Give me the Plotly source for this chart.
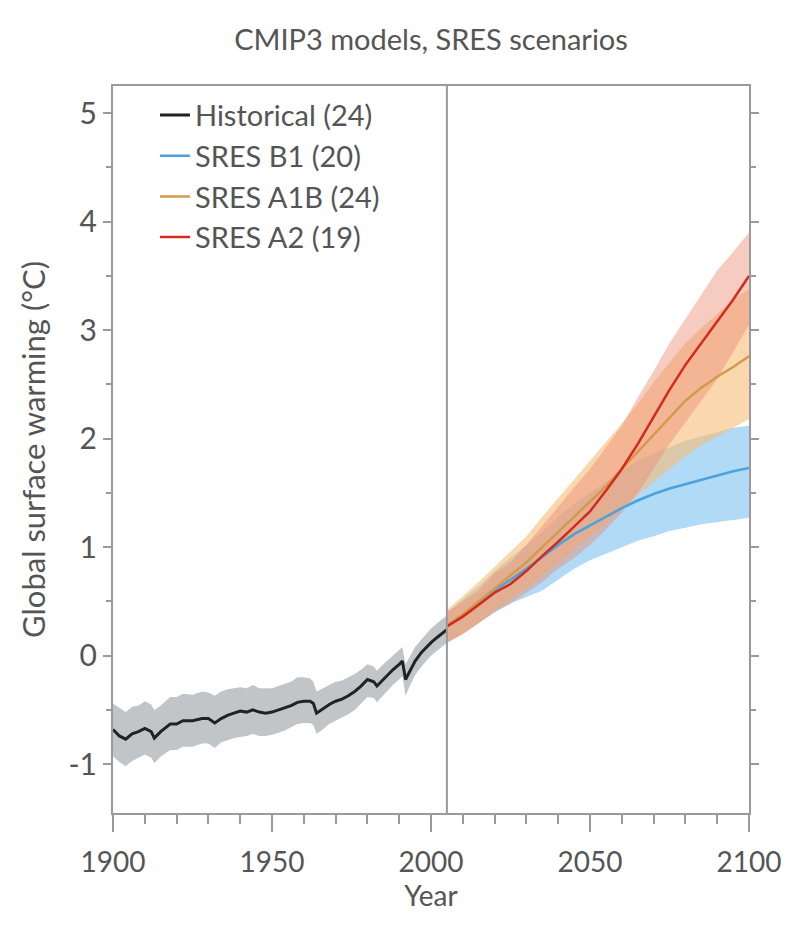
import plotly.graph_objects as go

# ---------------- data ----------------
hist_years = [1900, 1902, 1904, 1906, 1908, 1910, 1912, 1913, 1915, 1918, 1920, 1922, 1925, 1928,
              1930, 1932, 1934, 1936, 1938, 1940, 1942, 1944, 1946, 1948, 1950, 1952, 1954, 1956,
              1958, 1960, 1962, 1963, 1964, 1966, 1968, 1970, 1972, 1974, 1976, 1978, 1980, 1982,
              1983, 1985, 1988, 1990, 1991, 1992, 1993, 1995, 1997, 2000, 2002, 2005]
hist_mean = [-0.68, -0.74, -0.77, -0.72, -0.70, -0.67, -0.70, -0.76, -0.70, -0.63, -0.63, -0.60,
             -0.60, -0.58, -0.58, -0.62, -0.58, -0.55, -0.53, -0.51, -0.52, -0.50, -0.52, -0.53,
             -0.52, -0.50, -0.48, -0.46, -0.43, -0.42, -0.42, -0.44, -0.53, -0.49, -0.45, -0.42,
             -0.40, -0.37, -0.33, -0.28, -0.22, -0.24, -0.28, -0.22, -0.13, -0.08, -0.05, -0.22,
             -0.16, -0.05, 0.03, 0.12, 0.17, 0.24]
hist_hi = [-0.44, -0.48, -0.52, -0.47, -0.46, -0.42, -0.45, -0.50, -0.46, -0.38, -0.38, -0.35,
           -0.36, -0.33, -0.34, -0.37, -0.33, -0.31, -0.30, -0.29, -0.30, -0.27, -0.30, -0.30,
           -0.30, -0.28, -0.26, -0.24, -0.20, -0.20, -0.21, -0.24, -0.33, -0.30, -0.27, -0.24,
           -0.23, -0.20, -0.17, -0.13, -0.08, -0.10, -0.14, -0.08, 0.00, 0.05, 0.08, -0.08,
           -0.03, 0.08, 0.15, 0.25, 0.30, 0.37]
hist_lo = [-0.93, -0.98, -1.02, -0.97, -0.94, -0.91, -0.94, -0.99, -0.93, -0.87, -0.87, -0.84,
           -0.84, -0.81, -0.81, -0.85, -0.80, -0.78, -0.76, -0.75, -0.74, -0.72, -0.74, -0.74,
           -0.73, -0.71, -0.69, -0.66, -0.63, -0.62, -0.62, -0.64, -0.72, -0.68, -0.63, -0.60,
           -0.57, -0.54, -0.50, -0.44, -0.38, -0.39, -0.43, -0.37, -0.27, -0.22, -0.19, -0.37,
           -0.30, -0.18, -0.10, 0.00, 0.05, 0.12]

fut_years = [2005, 2010, 2015, 2020, 2025, 2030, 2035, 2040, 2045, 2050,
             2055, 2060, 2065, 2070, 2075, 2080, 2085, 2090, 2095, 2100]

b1_mean = [0.27, 0.37, 0.48, 0.60, 0.70, 0.80, 0.91, 1.02, 1.12, 1.20,
           1.28, 1.36, 1.43, 1.49, 1.54, 1.58, 1.62, 1.66, 1.70, 1.73]
b1_hi = [0.40, 0.52, 0.64, 0.78, 0.90, 1.02, 1.14, 1.28, 1.40, 1.50,
         1.60, 1.70, 1.80, 1.86, 1.92, 1.98, 2.02, 2.06, 2.10, 2.12]
b1_lo = [0.12, 0.20, 0.30, 0.40, 0.48, 0.54, 0.60, 0.70, 0.80, 0.88,
         0.94, 1.00, 1.06, 1.10, 1.15, 1.18, 1.21, 1.23, 1.25, 1.27]

a1b_mean = [0.28, 0.38, 0.50, 0.62, 0.74, 0.86, 1.00, 1.14, 1.28, 1.42,
            1.56, 1.72, 1.88, 2.04, 2.20, 2.35, 2.47, 2.57, 2.66, 2.76]
a1b_hi = [0.42, 0.55, 0.68, 0.82, 0.96, 1.10, 1.28, 1.45, 1.62, 1.80,
          1.96, 2.14, 2.32, 2.52, 2.70, 2.88, 3.02, 3.15, 3.28, 3.38]
a1b_lo = [0.12, 0.20, 0.30, 0.42, 0.52, 0.62, 0.74, 0.86, 0.98, 1.10,
          1.22, 1.35, 1.48, 1.60, 1.72, 1.84, 1.94, 2.02, 2.10, 2.18]

a2_mean = [0.27, 0.36, 0.47, 0.58, 0.66, 0.78, 0.92, 1.05, 1.19, 1.33,
           1.52, 1.72, 1.95, 2.20, 2.45, 2.68, 2.88, 3.08, 3.28, 3.50]
a2_hi = [0.40, 0.50, 0.60, 0.76, 0.86, 1.02, 1.20, 1.38, 1.55, 1.72,
         1.92, 2.12, 2.38, 2.62, 2.88, 3.10, 3.32, 3.55, 3.72, 3.90]
a2_lo = [0.12, 0.20, 0.30, 0.40, 0.48, 0.58, 0.68, 0.80, 0.90, 1.02,
         1.16, 1.32, 1.50, 1.72, 1.95, 2.15, 2.35, 2.55, 2.80, 3.05]

legend_names = ["Historical (24)", "SRES B1 (20)", "SRES A1B (24)", "SRES A2 (19)"]
split_year = 2005
x_ticks = [1900, 1950, 2000, 2050, 2100]
y_ticks = [-1, 0, 1, 2, 3, 4, 5]
y_tick_text = ["-1", "0", "1", "2", "3", "4", "5"]

# ---------------- styles ----------------
FONT = "Lato"
TXT = "#555555"
AX = "#9a9a9a"

fig = go.Figure()


def band(x, lo, hi, color):
    fig.add_trace(go.Scatter(
        x=list(x) + list(x)[::-1],
        y=list(hi) + list(lo)[::-1],
        fill="toself", fillcolor=color, mode="lines",
        line=dict(width=0), hoverinfo="skip", showlegend=False))


band(hist_years, hist_lo, hist_hi, "rgba(178,182,186,0.8)")
band(fut_years, b1_lo, b1_hi, "rgba(150,205,242,0.75)")
band(fut_years, a1b_lo, a1b_hi, "rgba(247,188,118,0.6)")
band(fut_years, a2_lo, a2_hi, "rgba(236,140,115,0.45)")


def line(x, y, color, name, rank, width=2.5):
    fig.add_trace(go.Scatter(
        x=x, y=y, mode="lines", name=name, legendrank=rank,
        line=dict(color=color, width=width)))


line(fut_years, b1_mean, "#4aa3df", legend_names[1], 2)
line(fut_years, a1b_mean, "#d49a4a", legend_names[2], 3)
line(fut_years, a2_mean, "#d42a1e", legend_names[3], 4)
line(hist_years, hist_mean, "#222222", legend_names[0], 1, width=3)

fig.add_shape(type="line", xref="x", yref="paper", x0=split_year, x1=split_year,
              y0=0, y1=1, line=dict(color=AX, width=2), layer="above")

fig.update_layout(
    width=787, height=929,
    margin=dict(l=113, r=38, t=86, b=116),
    paper_bgcolor="white", plot_bgcolor="white",
    font=dict(family=FONT, color=TXT, size=28),
    title=dict(text="CMIP3 models, SRES scenarios", x=0.5, xref="paper",
               xanchor="center", y=0.957, yanchor="middle",
               font=dict(family=FONT, size=29, color=TXT)),
    legend=dict(x=0.066, y=0.995, xanchor="left", yanchor="top",
                bgcolor="rgba(0,0,0,0)", font=dict(family=FONT, size=29, color=TXT),
                tracegroupgap=0, itemwidth=30),
    showlegend=True,
)

fig.update_xaxes(
    range=[1900, 2100], tickvals=x_ticks, ticks="outside", ticklen=17, tickwidth=2,
    tickcolor=AX, showline=True, linecolor=AX, linewidth=2, mirror=True,
    showgrid=False, zeroline=False, automargin=False, ticklabelstandoff=6,
    tickfont=dict(family=FONT, size=28, color=TXT),
    minor=dict(dtick=10, ticks="outside", ticklen=9, tickwidth=2, tickcolor=AX),
    title=dict(text="Year", font=dict(family=FONT, size=28, color=TXT), standoff=8),
)
fig.update_yaxes(
    range=[-1.45, 5.25], tickvals=y_ticks, ticktext=y_tick_text, ticks="outside",
    ticklen=8, tickwidth=2, tickcolor=AX, showline=True, linecolor=AX, linewidth=2,
    mirror="ticks", showgrid=False, zeroline=False, automargin=False,
    tickfont=dict(family=FONT, size=30, color=TXT),
    minor=dict(dtick=0.5, ticks="outside", ticklen=5, tickwidth=2, tickcolor=AX),
    title=dict(text="Global surface warming (°C)", font=dict(family=FONT, size=31, color=TXT),
               standoff=14),
)

fig.write_html(
    "out.html",
    config={"displayModeBar": False},
    post_script="document.body.style.margin='0';"
                "document.documentElement.style.overflow='hidden';",
)
